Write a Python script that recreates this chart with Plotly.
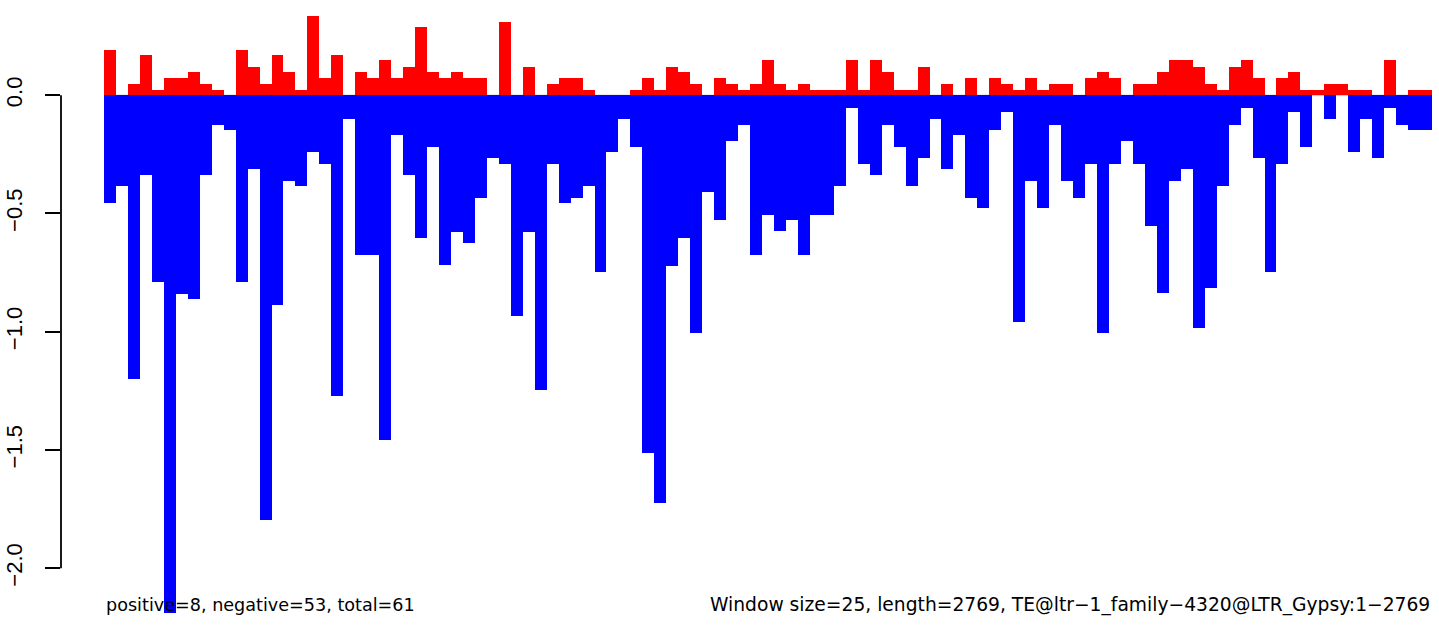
import plotly.graph_objects as go

# Window index (111 windows of 25 bp over 2769 bp)
window_index = list(range(111))

positive_values = [
    0.193, 0, 0.049, 0.168, 0.024, 0.073, 0.073, 0.097, 0.049, 0.024,
    0, 0.193, 0.121, 0.049, 0.168, 0.097, 0.024, 0.337, 0.073, 0.168,
    0, 0.097, 0.073, 0.147, 0.073, 0.121, 0.290, 0.097, 0.073, 0.097,
    0.073, 0.073, 0, 0.311, 0, 0.121, 0, 0.049, 0.073, 0.073,
    0.024, 0, 0, 0, 0.024, 0.073, 0.024, 0.121, 0.097, 0.049,
    0, 0.073, 0.049, 0.024, 0.049, 0.147, 0.049, 0.024, 0.049, 0.024,
    0.024, 0.024, 0.147, 0.024, 0.147, 0.097, 0.024, 0.024, 0.121, 0,
    0.049, 0, 0.073, 0, 0.073, 0.049, 0.024, 0.073, 0.024, 0.049,
    0.049, 0, 0.073, 0.097, 0.073, 0, 0.049, 0.049, 0.097, 0.147,
    0.147, 0.121, 0.049, 0.024, 0.121, 0.147, 0.073, 0, 0.073, 0.097,
    0.024, 0.024, 0.049, 0.049, 0.024, 0.024, 0, 0.147, 0, 0.024,
    0.024,
]

negative_values = [
    -0.454, -0.385, -1.199, -0.338, -0.791, -2.190, -0.839, -0.863, -0.338, -0.124,
    -0.148, -0.791, -0.313, -1.797, -0.889, -0.364, -0.385, -0.241, -0.292, -1.271,
    -0.099, -0.674, -0.674, -1.460, -0.169, -0.338, -0.602, -0.220, -0.720, -0.578,
    -0.623, -0.434, -0.266, -0.292, -0.934, -0.578, -1.246, -0.292, -0.454, -0.434,
    -0.385, -0.746, -0.241, -0.099, -0.220, -1.511, -1.725, -0.722, -0.602, -1.006,
    -0.410, -0.526, -0.193, -0.124, -0.674, -0.506, -0.576, -0.526, -0.674, -0.506,
    -0.506, -0.385, -0.052, -0.292, -0.338, -0.124, -0.220, -0.385, -0.266, -0.099,
    -0.313, -0.169, -0.434, -0.479, -0.148, -0.073, -0.960, -0.364, -0.479, -0.124,
    -0.364, -0.434, -0.292, -1.006, -0.292, -0.193, -0.292, -0.551, -0.837, -0.364,
    -0.313, -0.985, -0.817, -0.385, -0.124, -0.052, -0.266, -0.746, -0.292, -0.073,
    -0.220, 0, -0.099, 0, -0.241, -0.099, -0.266, -0.052, -0.124, -0.148,
    -0.148,
]

tick_values = [0.0, -0.5, -1.0, -1.5, -2.0]
tick_labels = ["0.0", "\u22120.5", "\u22121.0", "\u22121.5", "\u22122.0"]

left_note = "positive=8, negative=53, total=61"
right_note = "Window size=25, length=2769, TE@ltr\u22121_family\u22124320@LTR_Gypsy:1\u22122769"

x_centers = [i + 0.5 for i in window_index]
n = len(window_index)

fig = go.Figure()
fig.add_trace(go.Bar(x=x_centers, y=positive_values, width=1,
                     marker=dict(color="#FF0000", line=dict(width=0)),
                     hoverinfo="skip", showlegend=False))
fig.add_trace(go.Bar(x=x_centers, y=negative_values, width=1,
                     marker=dict(color="#0000FF", line=dict(width=0)),
                     hoverinfo="skip", showlegend=False))

# gray baseline at zero across the bars
fig.add_shape(type="line", xref="x", yref="y", x0=0, x1=n, y0=0, y1=0,
              line=dict(color="#BEBEBE", width=1), layer="below")
# R-style axis line spanning only the tick range
fig.add_shape(type="line", xref="paper", yref="y", x0=0, x1=0,
              y0=min(tick_values), y1=max(tick_values),
              line=dict(color="black", width=1.8))

fig.add_annotation(text=left_note, xref="x", yref="paper", x=0, y=1 - 605 / 632,
                   xanchor="left", yanchor="middle", showarrow=False,
                   font=dict(family="DejaVu Sans", size=17.6, color="black"))
fig.add_annotation(text=right_note, xref="x", yref="paper", x=n, y=1 - 605 / 632,
                   xanchor="right", yanchor="middle", showarrow=False,
                   font=dict(family="DejaVu Sans", size=18.7, color="black"))

px_per_unit_x = 11.964
px_per_unit_y = 236.5
fig.update_layout(
    width=1439, height=632,
    margin=dict(l=61, r=0, t=0, b=0),
    paper_bgcolor="white", plot_bgcolor="white",
    barmode="overlay", bargap=0,
    xaxis=dict(visible=False, range=[(61 - 104) / px_per_unit_x, (1439 - 104) / px_per_unit_x],
               fixedrange=True),
    yaxis=dict(range=[-(632 - 95.2) / px_per_unit_y, 95.2 / px_per_unit_y],
               tickvals=tick_values, ticktext=tick_labels, tickangle=-90,
               ticks="outside", ticklen=15, tickwidth=1.8, tickcolor="black",
               ticklabelstandoff=14,
               showline=False, showgrid=False, zeroline=False, automargin=False,
               tickfont=dict(family="Liberation Sans", size=22, color="black"),
               fixedrange=True),
)

fig.write_html("out.html", config={"displayModeBar": False})

# remove default page margins so the figure sits at the window origin
with open("out.html", "r", encoding="utf-8") as f:
    html = f.read()
html = html.replace("<body>", '<body style="margin:0;padding:0;overflow:hidden">', 1)
with open("out.html", "w", encoding="utf-8") as f:
    f.write(html)
